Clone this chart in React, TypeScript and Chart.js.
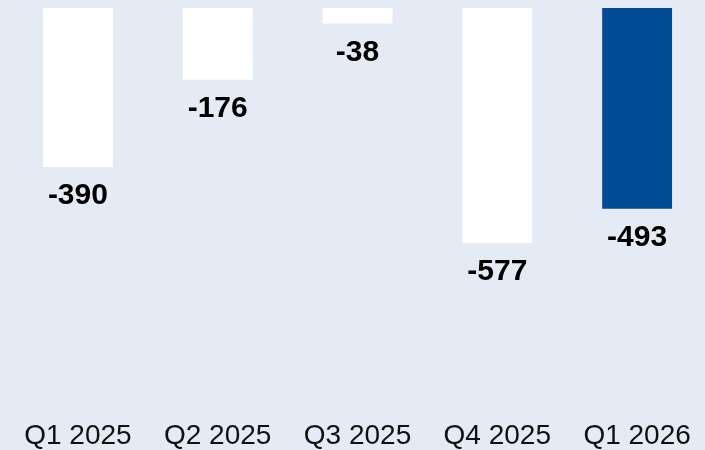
import React, { useEffect, useRef } from "react";
import { Chart, registerables } from "chart.js";

Chart.register(...registerables);

const categories: string[] = ["Q1 2025", "Q2 2025", "Q3 2025", "Q4 2025", "Q1 2026"];
const values: number[] = [-390, -176, -38, -577, -493];
const barColors: string[] = ["#ffffff", "#ffffff", "#ffffff", "#ffffff", "#024c96"];

const BG = "#e5ebf4";
const FONT = "'Liberation Sans', Arial, Helvetica, sans-serif";

const valueLabels = {
  id: "valueLabels",
  afterDatasetsDraw(chart: any) {
    const ctx = chart.ctx;
    const meta = chart.getDatasetMeta(0);
    const data = chart.data.datasets[0].data as number[];
    ctx.save();
    ctx.font = `bold 30px ${FONT}`;
    ctx.fillStyle = "#000000";
    ctx.textAlign = "center";
    ctx.textBaseline = "middle";
    meta.data.forEach((bar: any, i: number) => {
      ctx.fillText(String(data[i]), bar.x, bar.y + 29);
    });
    ctx.restore();
  },
};

export default function App() {
  const canvasRef = useRef<HTMLCanvasElement | null>(null);

  useEffect(() => {
    if (!canvasRef.current) return;
    const chart = new Chart(canvasRef.current, {
      type: "bar",
      data: {
        labels: categories,
        datasets: [
          {
            data: values,
            backgroundColor: barColors,
            borderWidth: 0,
            categoryPercentage: 0.5,
            barPercentage: 1,
          },
        ],
      },
      options: {
        animation: false,
        responsive: true,
        maintainAspectRatio: false,
        layout: { padding: { left: 8, top: 8, right: 1, bottom: 0 } },
        plugins: {
          legend: { display: false },
          tooltip: { enabled: false },
        },
        scales: {
          x: {
            grid: { display: false, drawTicks: false },
            border: { display: false },
            ticks: {
              color: "#111111",
              padding: 6,
              font: { family: FONT, size: 28 },
              maxRotation: 0,
              autoSkip: false,
            },
          },
          y: {
            display: false,
            min: -995,
            max: 0,
          },
        },
      },
      plugins: [valueLabels],
    });
    return () => chart.destroy();
  }, []);

  return (
    <div
      style={{
        position: "fixed",
        left: 0,
        top: 0,
        width: 705,
        height: 450,
        overflow: "hidden",
        background: BG,
      }}
    >
      <div style={{ position: "relative", width: 708, height: 459 }}>
        <canvas ref={canvasRef} />
      </div>
    </div>
  );
}
